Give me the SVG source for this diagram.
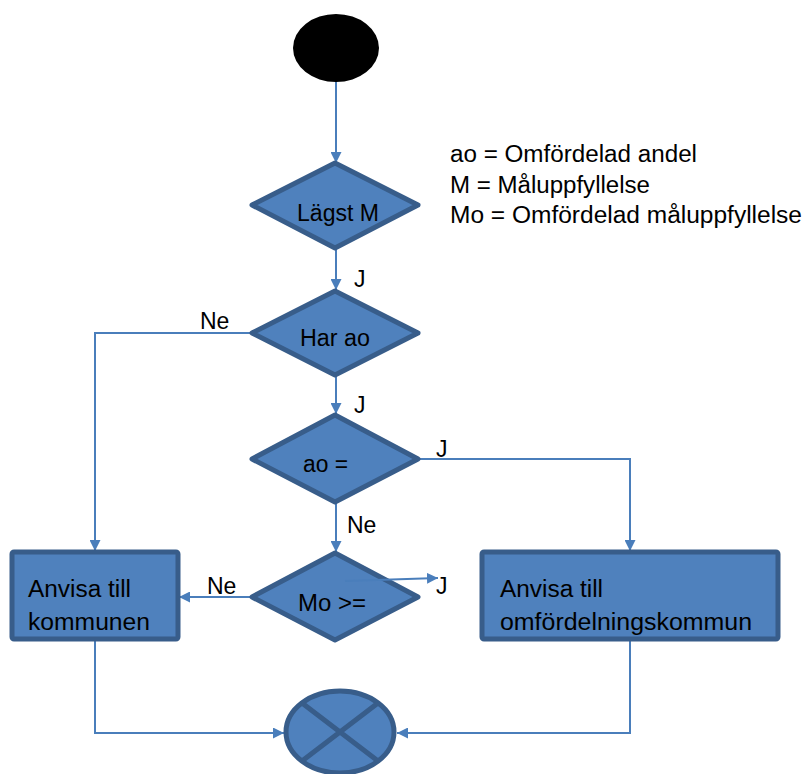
<svg xmlns="http://www.w3.org/2000/svg" width="807" height="774" viewBox="0 0 807 774">
<defs>
<style>
.shape{fill:#4F81BD;stroke:#385D8A;stroke-width:5;stroke-linejoin:round}
.conn{fill:none;stroke:#4A7EBB;stroke-width:2}
text{font-family:"Liberation Sans",Arial,sans-serif;font-size:23px;fill:#000}
</style>
<marker id="ah" viewBox="0 0 10 10" refX="10" refY="5" markerWidth="11" markerHeight="11" orient="auto" markerUnits="userSpaceOnUse">
<path d="M0,0 L10,5 L0,10 z" fill="#4A7EBB"/>
</marker>
</defs>
<rect width="807" height="774" fill="#fff"/>
<g id="connectors">
<path class="conn" d="M336,82 V163" marker-end="url(#ah)"/>
<path class="conn" d="M336,248 V290" marker-end="url(#ah)"/>
<path class="conn" d="M252,333 H95 V551" marker-end="url(#ah)"/>
<path class="conn" d="M336,375 V414" marker-end="url(#ah)"/>
<path class="conn" d="M418,459 H630 V551" marker-end="url(#ah)"/>
<path class="conn" d="M336,502 V552" marker-end="url(#ah)"/>
<path class="conn" d="M252,597 H179" marker-end="url(#ah)"/>
<path class="conn" d="M95,640 V733 H284" marker-end="url(#ah)"/>
<path class="conn" d="M630,640 V733 H397" marker-end="url(#ah)"/>
</g>
<g id="labels">
<text x="354" y="287">J</text>
<text x="200" y="329">Ne</text>
<text x="354" y="413">J</text>
<text x="436" y="457">J</text>
<text x="347" y="533">Ne</text>
<text x="207" y="594">Ne</text>
<text x="436" y="594">J</text>
</g>
<g id="start"><ellipse cx="336" cy="48" rx="43" ry="34" fill="#000"/></g>
<g id="legend">
<text x="450" y="162" textLength="247" lengthAdjust="spacingAndGlyphs">ao = Omfördelad andel</text>
<text x="450" y="193" textLength="200" lengthAdjust="spacingAndGlyphs">M = Måluppfyllelse</text>
<text x="450" y="223" textLength="352" lengthAdjust="spacingAndGlyphs">Mo = Omfördelad måluppfyllelse</text>
</g>
<g id="d1"><polygon class="shape" points="335,163 418,205 335,248 252,205"/><text x="297" y="221" textLength="82" lengthAdjust="spacingAndGlyphs">Lägst M</text></g>
<g id="d2"><polygon class="shape" points="335,291 418,333 335,375 252,333"/><text x="300" y="346" textLength="70" lengthAdjust="spacingAndGlyphs">Har ao</text></g>
<g id="d3"><polygon class="shape" points="335,415 418,459 335,502 252,459"/><text x="303" y="472" textLength="45" lengthAdjust="spacingAndGlyphs">ao =</text></g>
<g id="d4"><polygon class="shape" points="335,553 418,597 335,640 252,597"/><text x="298" y="611" textLength="68" lengthAdjust="spacingAndGlyphs">Mo &gt;=</text></g>
<path class="conn" d="M345,581 L438,578" marker-end="url(#ah)"/>
<g id="box1"><rect class="shape" x="12" y="552" width="166" height="87" rx="2"/><text x="28" y="597" textLength="103" lengthAdjust="spacingAndGlyphs">Anvisa till</text><text x="28" y="630" textLength="122" lengthAdjust="spacingAndGlyphs">kommunen</text></g>
<g id="box2"><rect class="shape" x="482" y="552" width="296" height="87" rx="2"/><text x="500" y="597" textLength="103" lengthAdjust="spacingAndGlyphs">Anvisa till</text><text x="500" y="630" textLength="252" lengthAdjust="spacingAndGlyphs">omfördelningskommun</text></g>
<g id="end"><ellipse class="shape" cx="340" cy="732" rx="54" ry="41"/><path d="M302,703 L378,761 M378,703 L302,761" stroke="#385D8A" stroke-width="5" fill="none"/></g>
</svg>
